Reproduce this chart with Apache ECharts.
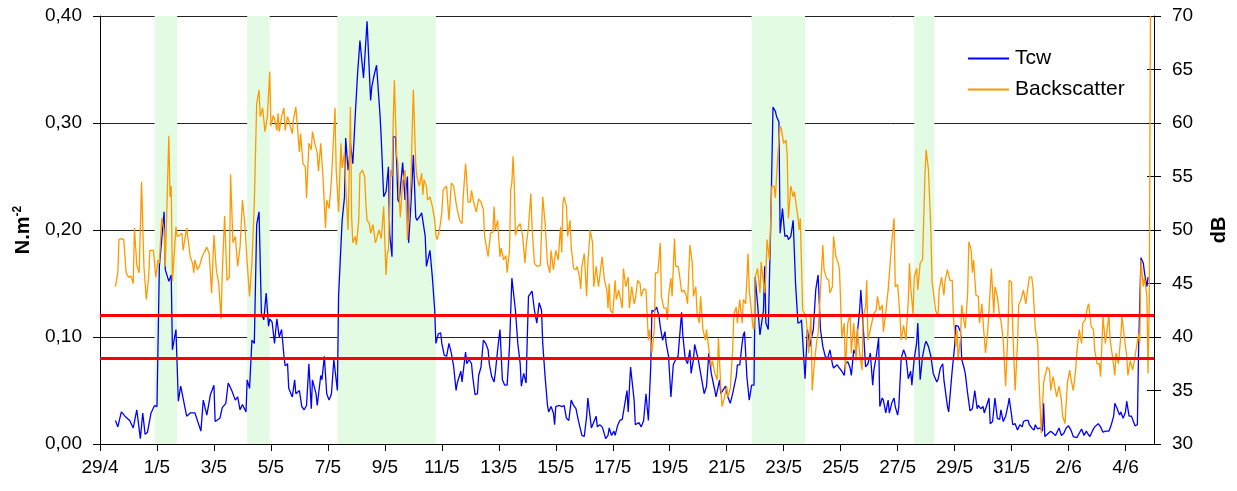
<!DOCTYPE html>
<html>
<head>
<meta charset="utf-8">
<script src="https://cdn.jsdelivr.net/npm/echarts@6/dist/echarts.min.js"></script>
<style>
  html, body { margin: 0; padding: 0; background: #fff; }
  #chart { width: 1237px; height: 491px; }
</style>
</head>
<body>
<div id="chart"></div>
<script>
// Hours since 29/4 00:00 paired with readings.
const tcwReadings = [
  [13,0.022],[15,0.016],[18,0.030],[21,0.026],[25,0.022],[28,0.015],[31,0.032],[34,0.005],[36,0.029],[38,0.009],
  [40,0.011],[43,0.029],[46,0.036],[48,0.035],[50,0.166],[54,0.217],[55,0.163],[58,0.152],[60,0.158],[61,0.088],
  [64,0.107],[66,0.040],[68,0.054],[73,0.026],[76,0.029],[80,0.029],[85,0.012],[87,0.041],[90,0.027],[93,0.046],
  [96,0.055],[97,0.021],[101,0.024],[103,0.034],[106,0.038],[108,0.057],[111,0.050],[114,0.041],[116,0.044],[118,0.032],
  [120,0.037],[123,0.030],[124,0.060],[126,0.052],[128,0.097],[130,0.094],[132,0.205],[134,0.217],[136,0.122],[138,0.116],
  [140,0.141],[142,0.110],[143,0.117],[145,0.114],[147,0.094],[149,0.117],[151,0.100],[153,0.107],[155,0.082],[156,0.073],
  [158,0.075],[159,0.052],[162,0.044],[164,0.060],[165,0.047],[168,0.050],[170,0.035],[172,0.032],[174,0.036],[176,0.075],
  [178,0.033],[179,0.060],[182,0.047],[183,0.036],[186,0.064],[187,0.060],[189,0.082],[191,0.047],[193,0.041],[195,0.047],
  [197,0.079],[200,0.050],[201,0.138],[204,0.209],[206,0.231],[207,0.286],[209,0.256],[210,0.265],[211,0.281],[213,0.262],
  [215,0.306],[217,0.346],[219,0.377],[222,0.342],[223,0.359],[225,0.395],[228,0.321],[229,0.334],[231,0.345],[233,0.354],
  [236,0.306],[237,0.284],[239,0.231],[241,0.236],[243,0.259],[244,0.197],[246,0.175],[247,0.287],[249,0.287],[250,0.262],
  [251,0.228],[252,0.226],[255,0.263],[257,0.228],[259,0.250],[260,0.188],[262,0.225],[264,0.270],[266,0.212],[267,0.209],
  [270,0.214],[271,0.216],[274,0.194],[275,0.166],[278,0.181],[280,0.156],[282,0.125],[283,0.094],[285,0.103],[287,0.104],
  [288,0.094],[290,0.083],[292,0.082],[294,0.094],[296,0.085],[298,0.072],[300,0.050],[301,0.057],[304,0.068],[305,0.058],
  [308,0.086],[309,0.075],[311,0.079],[313,0.075],[314,0.063],[316,0.046],[318,0.047],[319,0.064],[321,0.072],[323,0.097],
  [325,0.094],[327,0.088],[328,0.075],[330,0.063],[332,0.058],[333,0.066],[335,0.088],[337,0.107],[339,0.060],[341,0.055],
  [343,0.055],[345,0.091],[347,0.155],[350,0.125],[352,0.094],[354,0.075],[355,0.054],[357,0.066],[359,0.057],[360,0.100],
  [361,0.138],[364,0.143],[366,0.125],[368,0.113],[370,0.132],[372,0.125],[373,0.094],[375,0.063],[377,0.036],[378,0.030],
  [380,0.035],[382,0.029],[383,0.018],[384,0.035],[387,0.036],[389,0.035],[391,0.036],[393,0.024],[395,0.022],[397,0.041],
  [399,0.036],[401,0.033],[403,0.022],[406,0.008],[408,0.007],[410,0.026],[411,0.043],[414,0.015],[415,0.016],[418,0.026],
  [419,0.016],[421,0.018],[423,0.016],[424,0.013],[426,0.005],[428,0.008],[429,0.015],[431,0.008],[433,0.012],[434,0.008],
  [436,0.017],[438,0.022],[440,0.023],[441,0.024],[444,0.050],[445,0.030],[447,0.072],[450,0.041],[451,0.018],[454,0.020],
  [456,0.016],[458,0.022],[460,0.047],[462,0.022],[464,0.072],[465,0.125],[467,0.124],[469,0.128],[471,0.119],[472,0.110],
  [474,0.097],[476,0.105],[477,0.094],[479,0.082],[481,0.044],[483,0.074],[485,0.079],[487,0.082],[490,0.123],[491,0.102],
  [493,0.080],[495,0.075],[497,0.088],[498,0.066],[500,0.079],[501,0.093],[504,0.079],[505,0.080],[507,0.060],[509,0.047],
  [511,0.054],[513,0.085],[515,0.066],[518,0.050],[519,0.044],[522,0.060],[523,0.047],[524,0.047],[527,0.054],[529,0.044],
  [531,0.038],[533,0.047],[536,0.063],[537,0.074],[539,0.074],[541,0.094],[542,0.102],[543,0.105],[545,0.063],[547,0.041],
  [549,0.055],[551,0.055],[552,0.156],[554,0.131],[556,0.102],[557,0.110],[559,0.125],[560,0.166],[561,0.113],[563,0.107],
  [565,0.200],[567,0.315],[569,0.311],[570,0.306],[572,0.301],[573,0.197],[575,0.220],[577,0.194],[579,0.195],[580,0.191],
  [582,0.194],[584,0.209],[586,0.150],[588,0.113],[590,0.114],[591,0.116],[594,0.061],[596,0.107],[598,0.091],[599,0.097],
  [601,0.107],[603,0.144],[605,0.158],[607,0.107],[609,0.091],[611,0.082],[613,0.080],[615,0.088],[617,0.075],[618,0.071],
  [621,0.074],[623,0.071],[625,0.068],[627,0.064],[628,0.075],[630,0.077],[632,0.071],[633,0.064],[635,0.088],[637,0.083],
  [638,0.103],[640,0.125],[641,0.144],[643,0.110],[645,0.072],[647,0.075],[649,0.085],[651,0.055],[652,0.069],[654,0.082],
  [656,0.099],[657,0.035],[659,0.043],[660,0.041],[662,0.029],[664,0.041],[665,0.029],[667,0.038],[669,0.043],[670,0.035],
  [672,0.027],[673,0.035],[675,0.080],[677,0.088],[679,0.082],[681,0.061],[683,0.068],[684,0.055],[686,0.080],[688,0.094],
  [689,0.113],[691,0.060],[693,0.082],[695,0.093],[696,0.096],[698,0.091],[700,0.082],[702,0.066],[705,0.058],[706,0.060],
  [708,0.071],[710,0.075],[711,0.060],[714,0.035],[715,0.030],[718,0.069],[720,0.091],[721,0.111],[723,0.110],[725,0.105],
  [726,0.079],[728,0.071],[729,0.066],[731,0.047],[733,0.031],[735,0.033],[737,0.050],[739,0.033],[740,0.036],[742,0.033],
  [744,0.035],[745,0.029],[747,0.036],[749,0.043],[750,0.019],[752,0.021],[754,0.043],[756,0.024],[758,0.023],[759,0.032],
  [761,0.021],[763,0.026],[765,0.036],[766,0.043],[768,0.027],[769,0.018],[771,0.019],[773,0.013],[775,0.018],[777,0.016],
  [778,0.021],[780,0.022],[782,0.022],[783,0.018],[785,0.015],[787,0.013],[788,0.018],[790,0.014],[792,0.015],[794,0.012],
  [795,0.038],[796,0.007],[799,0.010],[801,0.012],[803,0.010],[805,0.008],[808,0.015],[810,0.008],[812,0.010],[814,0.015],
  [816,0.017],[818,0.013],[820,0.007],[823,0.006],[825,0.010],[827,0.014],[829,0.008],[831,0.012],[832,0.010],[834,0.007],
  [836,0.012],[838,0.016],[841,0.019],[843,0.016],[845,0.011],[847,0.012],[850,0.012],[852,0.018],[854,0.026],[855,0.038],
  [857,0.033],[859,0.027],[860,0.030],[862,0.024],[864,0.030],[865,0.040],[867,0.026],[869,0.026],[870,0.026],[872,0.017],
  [874,0.018],[875,0.088],[877,0.174],[879,0.169],[880,0.160],[882,0.147],[883,0.156]
];

const backscatterReadings = [
  [13,44.7],[15,46.0],[16,49.1],[18,49.2],[20,49.1],[22,46.0],[24,45.6],[26,45.7],[28,45.0],[29,50.2],
  [31,46.7],[33,46.0],[35,54.5],[37,46.6],[39,43.5],[41,45.6],[42,48.1],[45,48.1],[47,45.6],[49,47.2],
  [50,46.9],[52,51.1],[54,50.0],[55,46.6],[58,58.8],[59,53.1],[60,54.1],[61,45.2],[64,50.3],[65,49.4],
  [67,49.5],[69,49.7],[70,48.1],[73,50.2],[76,47.5],[78,46.9],[79,46.0],[80,47.2],[82,46.3],[84,46.7],
  [86,47.5],[90,48.4],[92,47.8],[94,44.1],[96,49.5],[98,46.3],[100,45.0],[102,41.7],[103,46.0],[105,51.3],
  [107,45.3],[109,45.6],[110,55.2],[112,48.8],[114,49.4],[116,46.6],[118,48.4],[120,52.8],[122,50.6],[124,46.9],
  [126,43.8],[128,46.9],[130,52.5],[132,61.8],[134,63.1],[135,60.6],[137,61.4],[139,59.2],[141,60.6],[143,64.8],
  [144,59.7],[146,60.7],[147,60.4],[149,59.3],[150,60.9],[151,59.2],[153,60.6],[155,61.4],[156,59.3],[158,60.6],
  [160,59.8],[162,59.0],[163,60.3],[165,61.5],[168,57.3],[169,59.0],[171,56.2],[173,55.9],[174,53.0],[176,58.1],
  [178,57.5],[179,59.2],[181,58.1],[183,57.2],[184,55.5],[186,58.1],[188,54.7],[190,50.2],[191,52.8],[193,52.0],
  [195,54.7],[198,61.4],[199,55.6],[201,51.7],[203,58.1],[204,55.8],[206,57.2],[207,54.1],[209,50.0],[211,61.5],
  [212,51.2],[213,48.8],[215,49.4],[216,48.6],[218,50.9],[219,55.3],[221,55.6],[223,55.0],[224,52.5],[225,50.9],
  [227,50.6],[228,49.7],[230,50.5],[232,48.8],[233,49.1],[235,50.0],[237,49.2],[239,52.2],[240,48.8],[241,45.8],
  [242,47.8],[243,48.1],[245,55.6],[246,55.0],[247,60.0],[248,64.0],[250,56.9],[251,56.2],[252,53.3],[253,51.2],
  [255,54.5],[257,55.6],[259,49.1],[260,50.6],[262,54.7],[263,59.3],[264,63.1],[266,56.2],[267,55.0],[269,54.1],
  [271,55.3],[272,53.3],[273,54.7],[275,54.1],[276,52.8],[278,53.1],[280,52.2],[282,50.9],[283,49.5],[284,49.1],
  [286,50.0],[288,51.6],[289,53.7],[290,53.9],[292,54.1],[294,50.9],[296,54.4],[298,54.1],[300,52.5],[301,51.9],
  [302,52.0],[303,50.9],[305,50.6],[306,53.1],[308,56.2],[309,54.7],[310,52.6],[312,52.6],[313,53.7],[315,52.5],
  [317,51.7],[319,52.9],[321,52.6],[323,51.9],[324,49.4],[327,47.5],[329,49.7],[331,49.8],[332,52.2],[333,50.0],
  [335,50.9],[336,49.1],[337,47.5],[338,48.3],[340,47.2],[342,47.6],[343,46.0],[345,48.1],[346,53.7],[347,54.4],
  [348,56.9],[349,54.4],[350,49.5],[352,50.3],[354,50.6],[356,49.5],[358,46.9],[359,48.4],[361,50.3],[363,53.4],
  [364,50.3],[366,46.9],[368,46.6],[369,46.7],[371,46.7],[373,53.1],[375,50.6],[377,46.9],[379,46.0],[380,48.1],
  [382,46.3],[384,48.1],[386,47.2],[388,50.3],[389,47.9],[390,52.5],[391,53.1],[393,52.2],[394,49.4],[396,50.9],
  [397,48.4],[399,46.4],[401,46.3],[402,46.6],[404,45.6],[405,44.5],[406,46.6],[408,47.8],[410,43.8],[411,46.9],
  [413,50.0],[415,48.8],[416,44.7],[418,46.6],[420,44.7],[421,44.7],[423,47.5],[425,45.3],[427,44.4],[428,42.7],
  [429,45.0],[430,42.5],[432,42.2],[434,45.3],[435,43.5],[437,44.4],[440,42.7],[441,46.4],[443,44.7],[445,45.6],
  [446,42.7],[448,44.7],[450,43.1],[451,43.5],[453,45.3],[455,45.0],[456,43.8],[458,44.5],[460,44.4],[462,39.7],
  [463,40.7],[464,39.7],[465,38.5],[467,40.7],[468,46.0],[470,46.0],[472,48.8],[473,43.8],[475,42.7],[477,42.7],
  [478,41.6],[479,43.8],[481,45.5],[482,43.8],[484,49.2],[485,46.6],[487,46.6],[488,46.0],[490,44.2],[492,44.4],
  [494,43.8],[495,43.1],[497,48.6],[499,46.9],[500,43.8],[502,44.7],[503,42.2],[505,41.3],[506,43.8],[508,40.7],
  [510,39.7],[511,40.7],[513,38.8],[515,37.2],[516,37.8],[518,36.6],[520,36.0],[521,39.9],[523,35.4],[524,33.5],
  [526,34.3],[528,35.4],[529,34.4],[531,35.2],[533,38.8],[534,42.1],[536,42.8],[537,41.3],[539,43.5],[541,41.3],
  [542,43.5],[544,43.1],[546,47.8],[547,44.4],[550,41.0],[551,40.7],[552,45.6],[554,46.4],[556,44.1],[557,47.0],
  [560,44.1],[561,46.0],[562,49.1],[564,47.2],[566,54.1],[568,54.1],[569,53.0],[571,56.9],[573,59.7],[574,59.5],
  [576,58.1],[578,58.4],[579,56.9],[580,51.1],[582,54.1],[584,53.1],[585,53.6],[586,52.8],[588,51.2],[589,50.0],
  [590,51.1],[592,42.5],[594,42.1],[595,41.7],[597,38.5],[599,42.1],[600,35.0],[602,37.8],[604,39.7],[605,40.3],
  [607,44.4],[609,48.6],[610,46.3],[612,45.5],[614,45.3],[615,44.1],[617,44.7],[618,49.4],[620,47.5],[622,46.9],
  [623,46.3],[625,40.0],[627,41.3],[628,36.9],[630,41.3],[632,42.1],[633,38.5],[635,41.3],[637,37.8],[638,40.8],
  [640,38.5],[642,36.9],[643,41.9],[645,42.8],[646,45.3],[647,39.7],[649,40.7],[650,40.7],[652,42.2],[654,42.5],
  [655,43.8],[657,42.5],[659,43.0],[660,40.5],[662,42.3],[664,44.4],[665,44.5],[667,48.8],[669,51.1],[670,44.7],
  [672,44.9],[674,41.9],[675,39.7],[677,41.1],[679,39.7],[681,43.5],[682,46.9],[683,44.7],[685,42.1],[686,45.6],
  [688,46.4],[689,44.4],[691,46.9],[693,47.2],[695,55.0],[696,57.5],[698,55.6],[700,50.0],[701,45.2],[702,45.3],
  [704,42.5],[706,41.9],[707,44.4],[709,45.6],[711,43.9],[712,45.3],[714,46.3],[716,45.3],[718,45.3],[719,41.9],
  [721,39.1],[722,40.7],[723,37.8],[725,40.0],[726,43.0],[728,41.4],[729,40.8],[731,44.1],[732,48.9],[734,48.1],
  [735,46.0],[736,47.2],[738,43.9],[740,43.8],[741,41.3],[743,43.1],[744,41.4],[746,38.5],[748,40.7],[749,42.5],
  [751,46.4],[753,42.2],[754,44.7],[756,43.8],[758,41.9],[759,41.6],[761,39.7],[763,35.4],[765,40.7],[766,45.3],
  [768,45.1],[769,40.7],[771,35.0],[773,39.4],[774,43.0],[776,43.5],[778,44.4],[780,43.1],[781,44.0],[783,45.6],
  [785,45.6],[786,44.7],[788,40.7],[790,39.4],[791,36.3],[793,31.0],[795,35.7],[796,36.3],[798,37.2],[800,36.9],
  [801,35.0],[803,36.3],[805,35.0],[806,34.4],[808,35.4],[810,34.1],[811,32.6],[813,31.9],[815,35.7],[817,36.9],
  [818,36.1],[820,35.0],[822,36.9],[823,38.6],[825,40.7],[827,39.4],[828,41.3],[830,41.6],[832,42.8],[833,43.1],
  [835,41.0],[837,40.7],[838,38.8],[840,37.5],[842,37.5],[843,36.3],[845,41.9],[847,39.4],[848,40.2],[850,42.1],
  [851,39.7],[853,38.2],[855,36.4],[856,38.5],[858,37.5],[860,40.0],[861,41.9],[863,40.0],[865,38.2],[866,36.4],
  [868,37.8],[870,36.9],[871,37.5],[873,38.9],[875,40.3],[876,39.4],[877,47.2],[879,44.7],[880,45.6],[882,43.8],
  [883,36.6],[884,43.1],[885,70.0]
];

// Highlighted periods, in hours since 29/4 00:00 [start, end].
const highlightPeriods = [[46, 65], [124, 143], [200, 283], [549, 594], [686, 703]];

// Horizontal reference levels on the stress axis.
const stressLevels = [0.08, 0.12];

// Date labels every two days from 29/4.
const dateLabels = ['29/4','1/5','3/5','5/5','7/5','9/5','11/5','13/5','15/5','17/5',
                    '19/5','21/5','23/5','25/5','27/5','29/5','31/5','2/6','4/6'];

const FONT = "'Liberation Sans', Arial, sans-serif";
const chart = echarts.init(document.getElementById('chart'), null, { renderer: 'canvas' });

chart.setOption({
  animation: false,
  backgroundColor: '#ffffff',
  textStyle: { fontFamily: FONT },
  grid: { left: 100, right: 82, top: 16, bottom: 47, containLabel: false },
  legend: {
    orient: 'vertical',
    left: 963,
    top: 43,
    itemGap: 10,
    itemWidth: 41,
    itemHeight: 2,
    itemStyle: { borderWidth: 0 },
    textStyle: { fontFamily: FONT, fontSize: 21, color: '#000', padding: [0, 0, 0, 1] },
    data: [
      { name: 'Tcw', icon: 'rect' },
      { name: 'Backscatter', icon: 'rect' }
    ]
  },
  xAxis: {
    type: 'value',
    min: 0,
    max: 888,
    interval: 48,
    axisLine: { lineStyle: { color: '#000', width: 1 } },
    axisTick: { show: true, length: 7, lineStyle: { color: '#000' } },
    splitLine: { show: false },
    axisLabel: {
      margin: 14,
      fontFamily: FONT,
      fontSize: 19,
      color: '#000',
      showMaxLabel: false,
      formatter: v => (v % 48 === 0 ? (dateLabels[v / 48] || '') : '')
    }
  },
  yAxis: [
    {
      type: 'value',
      min: 0,
      max: 0.4,
      interval: 0.1,
      position: 'left',
      name: '{m|N.m}{s|-2}',
      nameLocation: 'middle',
      nameRotate: 90,
      nameGap: 66,
      nameTextStyle: {
        rich: {
          m: { fontFamily: FONT, fontSize: 20, fontWeight: 'bold', color: '#000' },
          s: { fontFamily: FONT, fontSize: 12, fontWeight: 'bold', color: '#000', verticalAlign: 'top', padding: [0, 0, 10, 0] }
        }
      },
      axisLine: { show: true, lineStyle: { color: '#000', width: 1 } },
      axisTick: { show: true, length: 7, lineStyle: { color: '#000' } },
      splitLine: { show: true, lineStyle: { color: '#222', width: 1 } },
      axisLabel: {
        margin: 18,
        fontFamily: FONT,
        fontSize: 19,
        color: '#000',
        formatter: v => v.toFixed(2).replace('.', ',')
      }
    },
    {
      type: 'value',
      min: 30,
      max: 70,
      interval: 5,
      position: 'right',
      name: 'dB',
      nameLocation: 'middle',
      nameRotate: 90,
      nameGap: 55,
      nameTextStyle: { fontFamily: FONT, fontSize: 20, fontWeight: 'bold', color: '#000' },
      axisLine: { show: true, lineStyle: { color: '#000', width: 1 } },
      axisTick: { show: true, length: 7, lineStyle: { color: '#000' } },
      splitLine: { show: false },
      axisLabel: { margin: 18, fontFamily: FONT, fontSize: 19, color: '#000' }
    },
    {
      // inner half of the right-hand tick marks
      type: 'value',
      min: 30,
      max: 70,
      interval: 5,
      position: 'right',
      axisLine: { show: false },
      axisTick: { show: true, inside: true, length: 7, lineStyle: { color: '#000' } },
      splitLine: { show: false },
      axisLabel: { show: false }
    }
  ],
  series: [
    {
      name: 'periods',
      type: 'line',
      data: [],
      z: -1,
      silent: true,
      markArea: {
        silent: true,
        itemStyle: { color: '#e2fbe2' },
        data: highlightPeriods.map(p => [{ xAxis: p[0] }, { xAxis: p[1] }])
      }
    },
    {
      name: 'Tcw',
      type: 'line',
      yAxisIndex: 0,
      data: tcwReadings,
      showSymbol: false,
      symbol: 'none',
      color: '#0000ff',
      lineStyle: { color: '#0000ff', width: 1.3 },
      z: 3
    },
    {
      name: 'Backscatter',
      type: 'line',
      yAxisIndex: 1,
      data: backscatterReadings,
      showSymbol: false,
      symbol: 'none',
      color: '#ff9900',
      lineStyle: { color: '#ff9900', width: 1.3 },
      z: 4
    },
    {
      name: 'levels',
      type: 'line',
      yAxisIndex: 0,
      data: [],
      z: 6,
      silent: true,
      markLine: {
        silent: true,
        symbol: 'none',
        label: { show: false },
        lineStyle: { color: '#ff0000', width: 3, type: 'solid' },
        data: stressLevels.map(v => ({ yAxis: v }))
      }
    }
  ]
});
</script>
</body>
</html>
